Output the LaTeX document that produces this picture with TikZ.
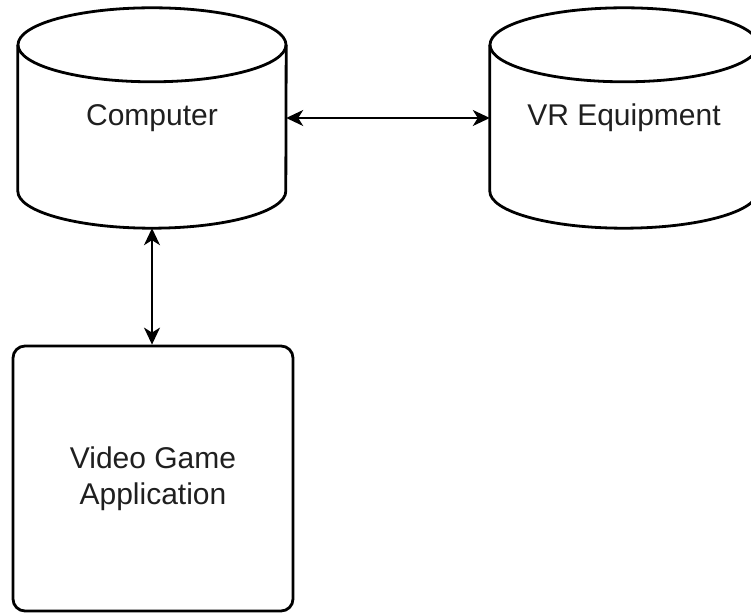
\documentclass[tikz,border=0pt]{standalone}
\usepackage{fontspec}
\setmainfont{Liberation Sans}
\usetikzlibrary{calc,arrows.meta}
\tikzset{
  ln/.style={line width=2.8pt, black},
  holder/.style={draw=none, inner sep=0pt, minimum width=268pt, minimum height=220pt},
  appbox/.style={ln, rounded corners=12pt, minimum width=280pt, minimum height=265pt, inner sep=0pt, align=center},
  lbl/.style={font=\fontsize{30}{36}\selectfont, text=black!88},
  conn/.style={line width=1.8pt, {Stealth[length=17pt,width=16pt,inset=5pt]}-{Stealth[length=17pt,width=16pt,inset=5pt]}}
}
\newcommand\drawcyl[1]{%
  \draw[ln] ($(#1.north west)+(0,-37pt)$) -- ($(#1.south west)+(0,37pt)$)
     arc[start angle=180,end angle=360,x radius=134pt,y radius=37pt]
     -- ($(#1.north east)+(0,-37pt)$);
  \draw[ln] ($(#1.north)+(0,-37pt)$) ellipse[x radius=134pt, y radius=37pt];}
\begin{document}
\begin{tikzpicture}[x=1pt,y=1pt]
\useasboundingbox (0,0) rectangle (751,613);
\begin{scope}
\clip (0,0) rectangle (751,613);
\node[holder] (comp) at (152,495) {};
\node[holder] (vr) at (624,495) {};
\drawcyl{comp}
\drawcyl{vr}
\node[lbl] (comptxt) at (152,495) {Computer};
\node[lbl] (vrtxt) at (624,495) {VR Equipment};
\node[appbox, lbl, draw] (app) at (153,134.5) {Video Game\\Application};
\draw[conn] (comp.east) -- (vr.west);
\draw[conn] (comp.south) -- (comp.south |- app.north);
\end{scope}
\end{tikzpicture}
\end{document}
